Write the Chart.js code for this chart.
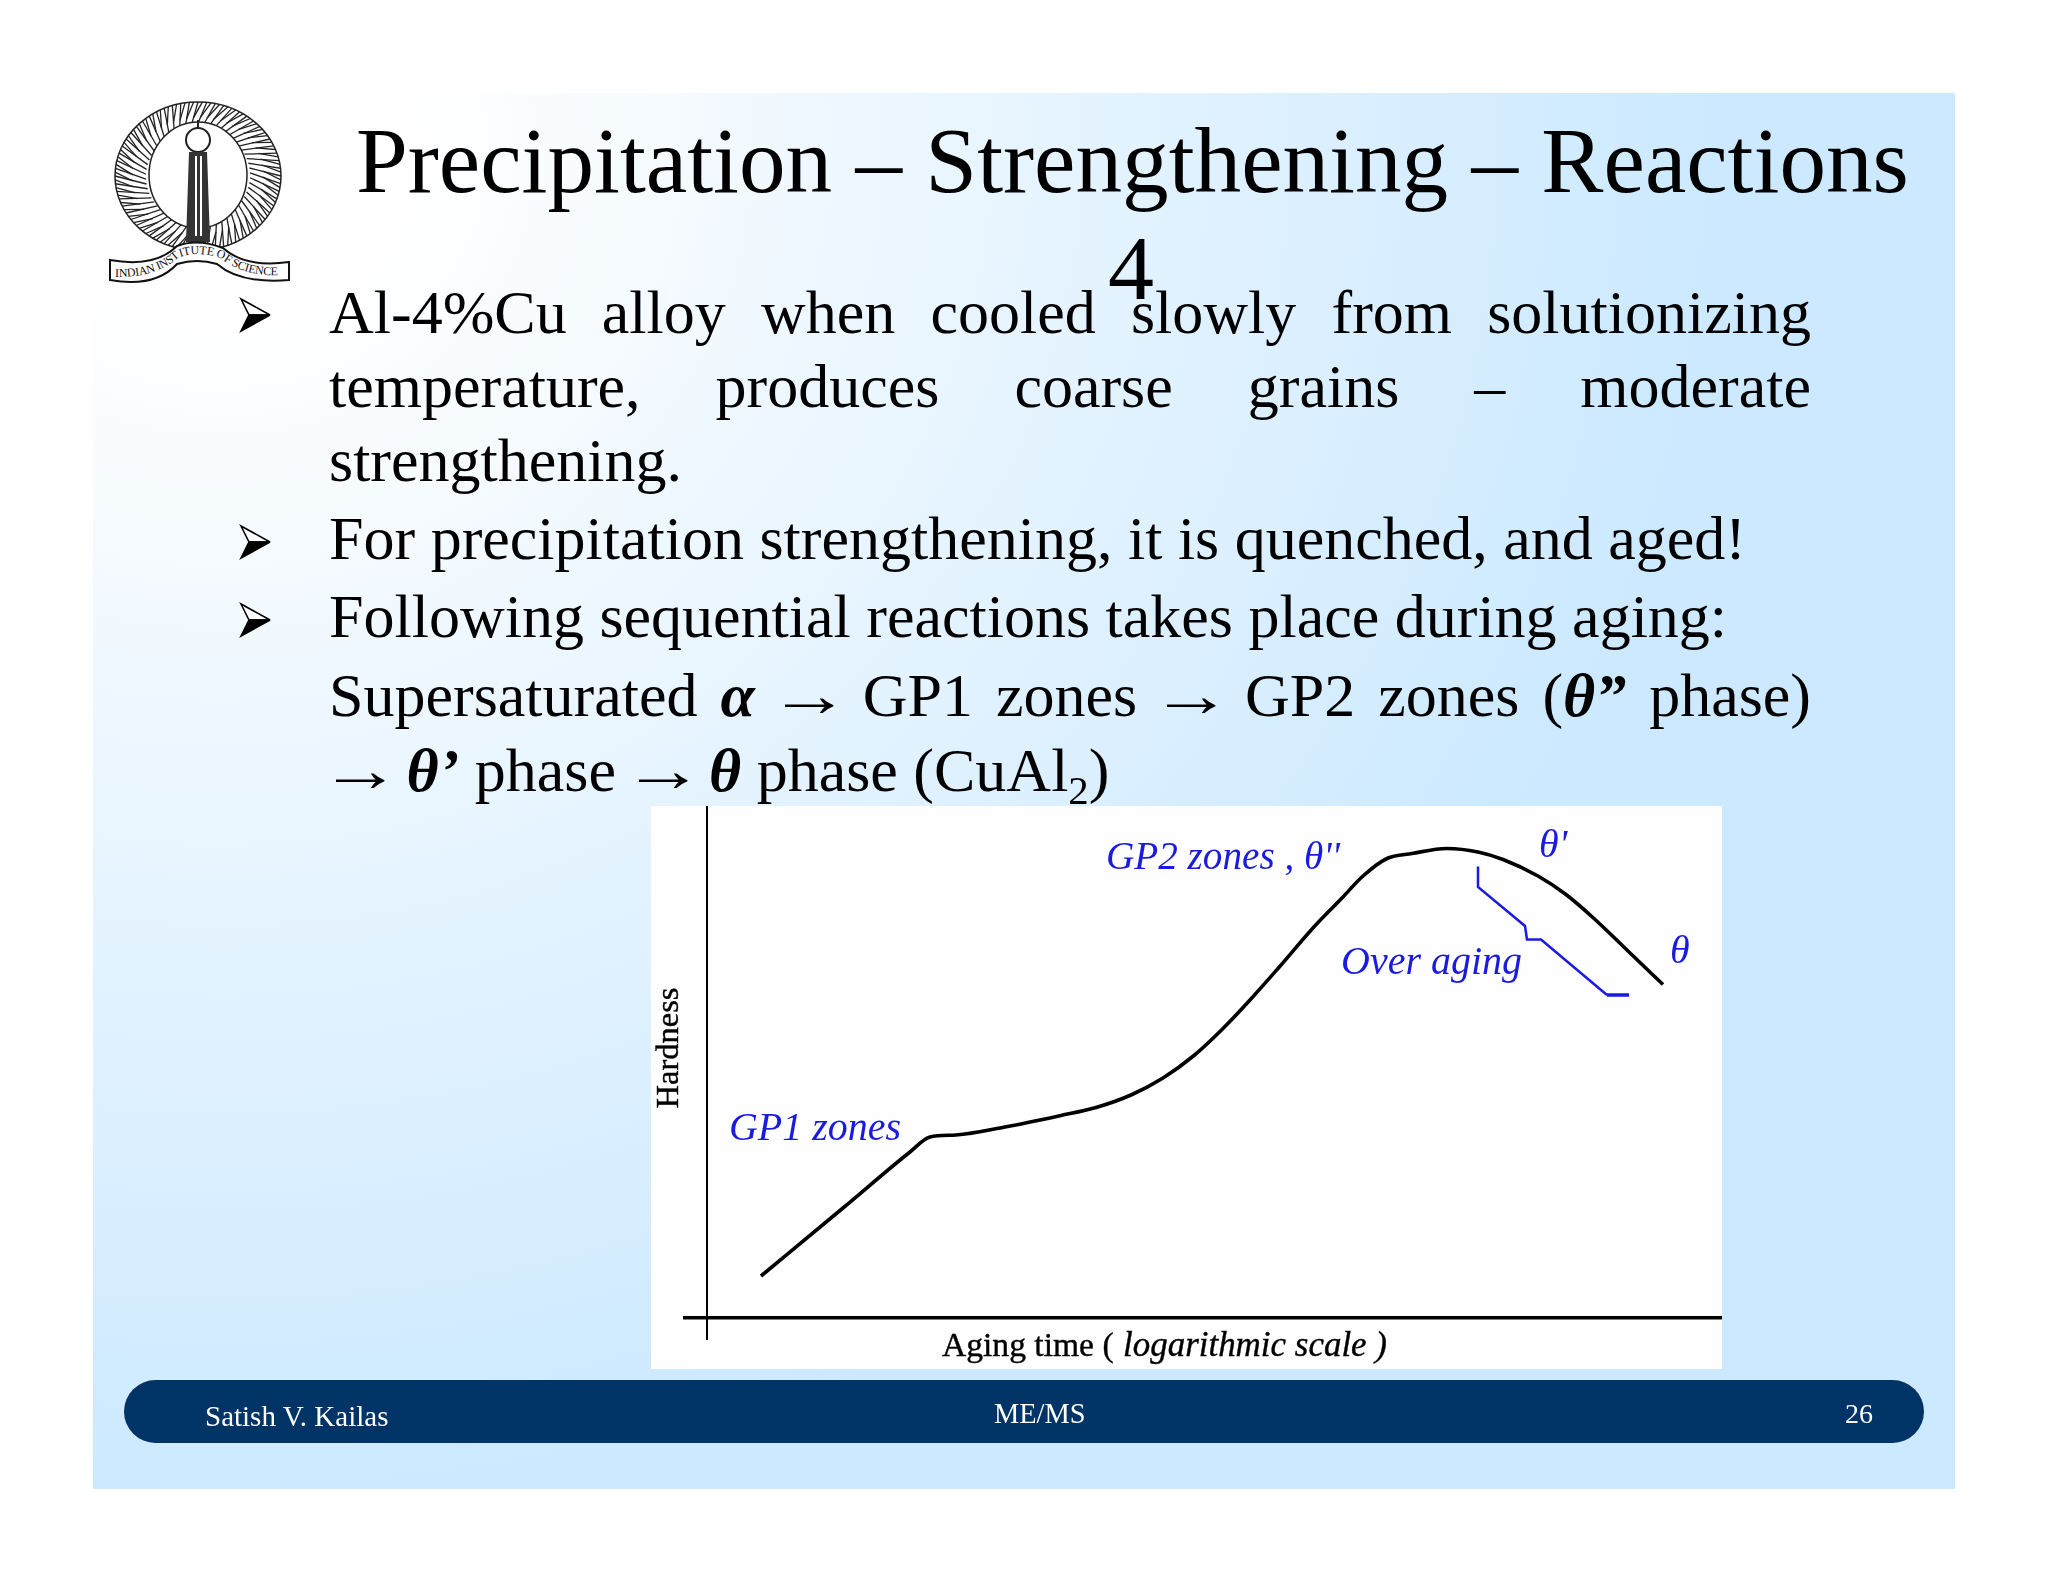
<!DOCTYPE html>
<html><head><meta charset="utf-8">
<script src="https://cdn.jsdelivr.net/npm/chart.js@4"></script>
<style>
html,body{margin:0;padding:0;background:#fff;width:2048px;height:1582px;overflow:hidden}
#slide{position:absolute;left:93px;top:93px;width:1862px;height:1396px;background:radial-gradient(ellipse 1500px 1350px at 130px 60px,#fff 0,#fff 12%,#e6f4ff 55%,#cce9ff 100%)}
.t{position:absolute;font-family:"Liberation Serif",serif;color:#000;line-height:1.149;white-space:pre}
.j{white-space:normal;text-align:justify;text-align-last:justify}
.a{font-family:"Liberation Sans";display:inline-block;transform:scaleX(1.32);text-align:left;text-align-last:left}
#panel{position:absolute;left:651px;top:806px;width:1071px;height:563px;background:#fffeff}
#panel canvas{display:block}
#bar{position:absolute;left:124px;top:1380px;width:1800px;height:63px;background:#003366;border-radius:32px}
sub{font-size:.66em;line-height:0}
b i{font-weight:bold}
svg{position:absolute}
</style></head><body>
<div id="slide"></div>
<div id="bar"></div>
<div id="panel"><canvas id="c" width="1071" height="563" style="width:1071px;height:563px"></canvas></div>
<svg id="logo" style="left:105px;top:100px" width="190" height="186" viewBox="0 0 190 186">
 <g id="wreath"></g>
 <ellipse cx="93" cy="75" rx="49" ry="53" fill="#fff" stroke="#222" stroke-width="1.5"/>
 <circle cx="93" cy="40" r="12" fill="#fff" stroke="#222" stroke-width="2"/>
 <path d="M93 20v8" stroke="#222" stroke-width="2"/>
 <path d="M84 52h18l3 90h-24z" fill="#333"/><path d="M90 56h2v80h-2zM95 56h2v80h-2z" fill="#fff"/>
 <path d="M5 160Q50 168 72 146Q92 138 118 148Q140 168 184 162L184 180Q135 184 112 164Q92 158 72 164Q50 188 5 180Z" fill="#fff" stroke="#111" stroke-width="2"/>
 <path id="rb" d="M10 177Q50 178 73 158Q92 150 115 158Q140 178 182 175" fill="none"/>
 <text font-family="Liberation Serif" font-size="12" fill="#111"><textPath href="#rb" textLength="172">INDIAN INSTITUTE OF SCIENCE</textPath></text>
</svg>
<svg style="left:0;top:0;pointer-events:none" width="2048" height="1582" id="bul"></svg>
<script>
// Chart data (arbitrary units: aging time on a log axis, hardness)
const agingTime = [5.4,13.6,20.3,22.3,24.9,29.8,35.4,38.9,42.4,45.6,48.7,51.5,54.3,57.1,60.6,63.5,65.6,68.0,70.5,74.0,77.1,79.6,83.1,85.9,88.7,92.2,95.6];
const hardness  = [8.4,22.0,33.2,36.2,36.6,38.2,40.5,42.1,44.6,48.0,52.5,57.7,63.6,69.9,78.0,84.0,88.4,91.9,92.9,93.9,93.2,91.7,88.4,84.7,79.9,73.2,66.7];
const overAgingX = [77.1,77.1,81.8,82.0,83.4,90.0];
const overAgingY = [90.3,86.2,78.4,75.7,75.7,64.6];
const overAgingEndX = [90.0,92.2];
const overAgingEndY = [64.6,64.6];
const seriesName = "Hardness";
const bracketName = "Over aging";
const xTitleA = "Aging time (";
const xTitleB = "logarithmic scale )";
const yTitle = "Hardness";
const annotationTexts = ["GP1 zones","GP2 zones , \u03b8''","\u03b8'","Over aging","\u03b8"];

const pts=(xs,ys)=>xs.map((x,i)=>({x,y:ys[i]}));
const notePos=[[2.2,35.6,172],[39.9,89.9,234],[83.2,92.2,34],[63.4,68.9,184],[96.3,71.0,20]];
const textPlugin={id:'notes',afterDatasetsDraw(ch){
  const c=ch.ctx,X=ch.scales.x,Y=ch.scales.y;
  c.save();c.textBaseline='alphabetic';c.textAlign='left';
  c.fillStyle='#1a1ae0';c.font='italic 40px "Liberation Serif"';
  annotationTexts.forEach((s,i)=>{const p=notePos[i];c.fillText(s,X.getPixelForValue(p[0]),Y.getPixelForValue(p[1]),p[2]);});
  c.fillStyle='#000';c.strokeStyle='#000';c.lineWidth=0.4;
  c.font='33.6px "Liberation Serif"';
  const ya=Y.getPixelForValue(-7.5);
  c.fillText(xTitleA,X.getPixelForValue(23.5),ya);c.strokeText(xTitleA,X.getPixelForValue(23.5),ya);
  c.font='italic 35px "Liberation Serif"';
  c.fillText(xTitleB,X.getPixelForValue(41.6),ya,264);c.strokeText(xTitleB,X.getPixelForValue(41.6),ya,264);
  c.font='32.5px "Liberation Serif"';c.textAlign='center';
  c.translate(X.getPixelForValue(-2.9),Y.getPixelForValue(54));c.rotate(-Math.PI/2);
  c.fillText(yTitle,0,0);c.strokeText(yTitle,0,0);
  c.restore();
}};
new Chart(document.getElementById('c'),{
 type:'line',
 data:{datasets:[
  {label:seriesName,data:pts(agingTime,hardness),borderColor:'#000',borderWidth:3.6,pointRadius:0,cubicInterpolationMode:'monotone',fill:false},
  {label:bracketName,data:pts(overAgingX,overAgingY),borderColor:'#1a1ae0',borderWidth:2.5,pointRadius:0,tension:0,fill:false},
  {label:bracketName,data:pts(overAgingEndX,overAgingEndY),borderColor:'#1a1ae0',borderWidth:3.5,pointRadius:0,tension:0,fill:false}
 ]},
 plugins:[textPlugin],
 options:{
  responsive:false,animation:false,devicePixelRatio:1,
  layout:{padding:{left:34,right:0,top:0,bottom:30}},
  plugins:{legend:{display:false},tooltip:{enabled:false}},
  scales:{
   x:{type:'linear',min:-2.2,max:101.5,position:{y:0},grid:{display:false},ticks:{display:false},border:{display:true,color:'#000',width:3.5}},
   y:{type:'linear',min:-4.2,max:102.4,position:{x:0},grid:{display:false},ticks:{display:false},border:{display:true,color:'#000',width:2}}
  }
 }
});

// slide text
function line(html,x,base,fs,w,col){
 const d=document.createElement('div');d.className='t'+(w?' j':'');
 d.style.cssText=`left:${x}px;top:${base-0.891*fs}px;font-size:${fs}px;`+(w?`width:${w}px;`:'')+(col?`color:${col};`:'');
 d.innerHTML=html;document.body.appendChild(d);return d;
}
const ar='<span class="a">\u2192</span>';
line('Precipitation \u2013 Strengthening \u2013 Reactions',356,190,93.2);
line('4',1108,298,92);
const bw=62,L=329,W=1482;
line('Al-4%Cu alloy when cooled slowly from solutionizing',L,332,bw,W);
line('temperature, produces coarse grains \u2013 moderate',L,406,bw,W);
line('strengthening.',L,480,bw);
line('For precipitation strengthening, it is quenched, and aged!',L,558,bw);
line('Following sequential reactions takes place during aging:',L,636,bw);
line(`Supersaturated <b><i>\u03b1</i></b> ${ar} GP1 zones ${ar} GP2 zones (<b><i>\u03b8\u201d</i></b> phase)`,L,714,bw,W);
line(`${ar} <b><i>\u03b8\u2019</i></b> phase ${ar} <b><i>\u03b8</i></b> phase (CuAl<sub>2</sub>)`,L,789,bw);
line('Satish V. Kailas',205,1426,29,0,'#fff');
line('ME/MS',994,1423,28.4,0,'#fff');
line('26',1845,1423,28,0,'#fff');
// bullet arrows
const ns='http://www.w3.org/2000/svg',bul=document.getElementById('bul');
[315,542,620].forEach(cy=>{
 const g=document.createElementNS(ns,'g');g.setAttribute('transform',`translate(241,${cy})`);
 g.innerHTML='<path d="M0-16L29 0L8 0Z" fill="#fff" stroke="#000" stroke-width="1.6"/><path d="M29 0L0 16L8 0Z" fill="#000" stroke="#000" stroke-width="1.6"/>';
 bul.appendChild(g);
});
// emblem wreath strokes
const wr=document.getElementById('wreath');let s='<ellipse cx="93" cy="76" rx="83" ry="74" fill="#fff" stroke="#222" stroke-width="1.5"/>';
for(let a=0;a<360;a+=3){const r=a*Math.PI/180,c=Math.cos(r),n=Math.sin(r);const k=a%6?0.78:0.62;
 s+=`<line x1="${93+83*c}" y1="${76+74*n}" x2="${93+83*k*c+8*n}" y2="${76+74*k*n-8*c}" stroke="#222" stroke-width="1.3"/>`;}
wr.innerHTML=s;
</script>
</body></html>
